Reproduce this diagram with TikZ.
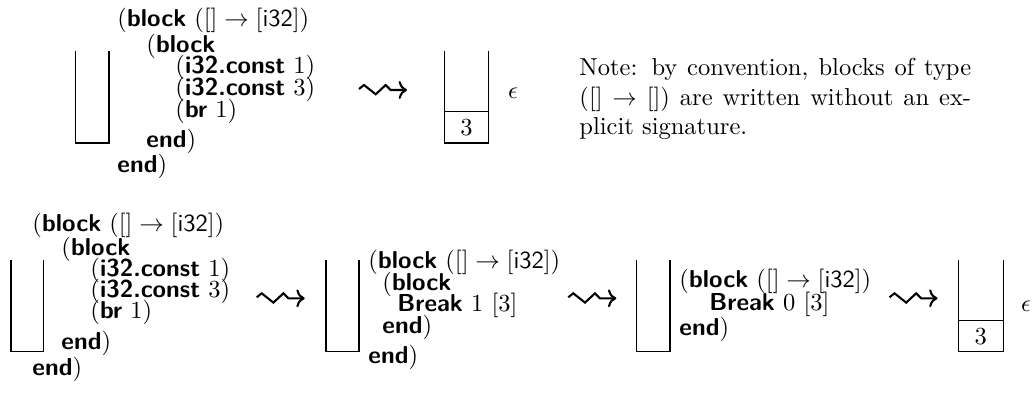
\documentclass[tikz,border=0pt]{standalone}
\usetikzlibrary{arrows.meta}
\newcommand\kwd[1]{\textsf{\textbf{#1}}}
\newcommand\ity{\textsf{i32}}
\begin{document}
\begin{tikzpicture}[x=0.408pt,y=-0.408pt,
  code/.style={anchor=base west,inner sep=0pt},
  stk/.style={line width=0.5pt},
  sq/.style={line width=0.85pt,-{Computer Modern Rightarrow[length=3.4pt,width=7.3pt]}}]
\useasboundingbox (0,0) rectangle (1032,393);
% ---------- top row ----------
\draw[stk] (75.3,51) -- (75.3,143) -- (109,143) -- (109,51);
\node[code] (t1) at (117,26) {(\kwd{block} $([] \to [\ity])$};
\node[code] (t2) at (146,52) {(\kwd{block}};
\node[code] (t3) at (175,73) {(\kwd{i32.const} $1$)};
\node[code] (t4) at (175,95) {(\kwd{i32.const} $3$)};
\node[code] (t5) at (175,117) {(\kwd{br} $1$)};
\node[code] (t6) at (146,147) {\kwd{end})};
\node[code] (t7) at (117,172) {\kwd{end})};
\coordinate (a0) at (359,90);
\draw[sq] (a0) ++(0,-1) -- ++(5,-4) -- ++(11.7,9.3) -- ++(10,-9.3) -- ++(5,5) -- ++(16.3,0);
\draw[stk] (444.3,51) -- (444.3,143) -- (488.7,143) -- (488.7,51);
\draw[stk] (444.3,111.7) -- (488.7,111.7);
\node (v0) at (466.5,127.3) {$3$};
\node (e0) at (513,93) {$\epsilon$};
\node[anchor=north west,inner sep=0pt,text width=159.8pt,align=justify] (note) at (579,58)
  {Note: by convention, blocks of type\linebreak $([] \to [])$ are written without an ex-\linebreak plicit signature.};
% ---------- bottom row ----------
\draw[stk] (11,260) -- (11,351.7) -- (43.3,351.7) -- (43.3,260);
\node[code] (b1) at (32,231) {(\kwd{block} $([] \to [\ity])$};
\node[code] (b2) at (61,255) {(\kwd{block}};
\node[code] (b3) at (90,276) {(\kwd{i32.const} $1$)};
\node[code] (b4) at (90,297) {(\kwd{i32.const} $3$)};
\node[code] (b5) at (90,318) {(\kwd{br} $1$)};
\node[code] (b6) at (61,349) {\kwd{end})};
\node[code] (b7) at (32,375) {\kwd{end})};
\coordinate (a1) at (256.7,298.3);
\draw[sq] (a1) ++(0,-1) -- ++(5,-4) -- ++(11.7,9.3) -- ++(10,-9.3) -- ++(5,5) -- ++(16.3,0);
\draw[stk] (326,260) -- (326,351.7) -- (359,351.7) -- (359,260);
\node[code] (c1) at (368,268) {(\kwd{block} $([] \to [\ity])$};
\node[code] (c2) at (382,290) {(\kwd{block}};
\node[code] (c3) at (397,311) {\kwd{Break} $1$ $[3]$};
\node[code] (c4) at (382,333) {\kwd{end})};
\node[code] (c5) at (368,363) {\kwd{end})};
\coordinate (a2) at (568.3,298.3);
\draw[sq] (a2) ++(0,-1) -- ++(5,-4) -- ++(11.7,9.3) -- ++(10,-9.3) -- ++(5,5) -- ++(16.3,0);
\draw[stk] (636.7,260) -- (636.7,351.7) -- (670,351.7) -- (670,260);
\node[code] (d1) at (679,287) {(\kwd{block} $([] \to [\ity])$};
\node[code] (d2) at (709,310) {\kwd{Break} $0$ $[3]$};
\node[code] (d3) at (679,335) {\kwd{end})};
\coordinate (a3) at (889.5,298.3);
\draw[sq] (a3) ++(0,-1) -- ++(5,-4) -- ++(11.7,9.3) -- ++(10,-9.3) -- ++(5,5) -- ++(16.3,0);
\draw[stk] (958.3,260) -- (958.3,351.7) -- (1003.3,351.7) -- (1003.3,260);
\draw[stk] (958.3,320.7) -- (1003.3,320.7);
\node (v1) at (980.8,336.2) {$3$};
\node (e1) at (1026.2,306.7) {$\epsilon$};
\end{tikzpicture}
\end{document}
